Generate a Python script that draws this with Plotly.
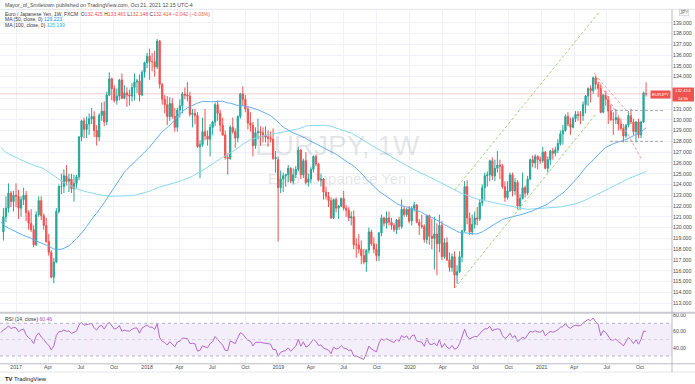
import pandas as pd
import plotly.graph_objects as go

# ---------------- data (weekly EUR/JPY, FXCM) ----------------
first_week = "2016-11-28"

# closes of the 100 weeks before the first visible bar (feed the MA / RSI indicators)
pre_closes = [
    143.6, 141.7, 136.7, 132.1, 133.5, 134.0, 135.3, 135.2, 133.8, 131.4,
    127.9, 131.1, 129.8, 130.2, 127.3, 129.2, 129.6, 133.8, 134.5, 136.1,
    133.9, 135.8, 139.8, 138.4, 139.0, 136.9, 135.9, 136.1, 134.7, 134.9,
    136.1, 135.6, 138.3, 135.6, 134.6, 133.2, 135.9, 136.2, 134.5, 134.7,
    136.7, 136.2, 133.1, 133.0, 131.6, 130.0, 131.4, 130.0, 133.5, 133.4,
    132.3, 131.4, 130.6,
    128.1, 128.3, 128.2, 131.0, 126.8, 127.0, 125.3, 124.4, 124.7, 126.7,
    125.8, 125.4, 127.6, 123.2, 124.3, 123.1, 122.4, 123.0, 123.6, 123.7,
    123.6, 120.6, 118.9, 117.7, 113.6, 114.3, 111.4, 116.5, 117.5, 114.0,
    112.9, 113.0, 113.2, 114.4, 116.0, 115.0, 114.8, 113.3, 113.8, 114.5,
    114.6, 113.9, 114.5, 114.7, 114.8, 117.5, 119.6,
]

opens = [
    119.6, 121.0, 121.8, 123.2, 122.4, 123.0, 122.9, 121.8, 122.6, 123.0,
    121.4, 120.4, 119.8, 118.4, 121.2, 122.5, 121.1, 120.2, 118.7, 117.7,
    115.4, 116.8, 121.5, 123.8, 123.8, 124.8, 124.3, 124.5, 123.6, 124.1,
    124.7, 128.4, 129.9, 129.1, 129.6, 130.1, 130.3, 129.0, 128.4, 130.4,
    130.8, 129.8, 132.3, 133.8, 132.9, 131.8, 132.2, 133.7, 132.0, 132.5,
    132.3, 132.2, 133.0, 133.5, 133.6, 132.3, 134.4, 135.3, 135.9, 135.4,
    135.4, 134.9, 137.3, 133.3, 131.9, 131.4, 130.3, 131.5, 130.3, 129.3,
    130.9, 131.3, 132.4, 132.3, 132.2, 130.5, 130.6, 130.4, 127.5, 127.7,
    128.9, 128.5, 128.2, 129.3, 129.8, 131.4, 130.6, 129.5, 128.6, 126.5,
    126.4, 129.3, 128.9, 128.3, 130.3, 132.4, 131.9, 131.0, 129.7, 129.5,
    127.6, 128.8, 128.9, 128.8, 128.6, 128.4, 128.3, 128.2, 126.4, 126.3,
    123.7, 124.5, 124.8, 124.9, 125.5, 124.3, 124.9, 125.4, 127.2, 124.9,
    126.2, 124.2, 124.5, 125.4, 126.6, 125.9, 124.4, 124.5, 123.3, 122.9,
    122.5, 120.9, 122.6, 121.8, 122.0, 122.7, 121.8, 121.6, 120.9, 121.0,
    118.4, 118.4, 118.0, 117.4, 116.8, 117.9, 119.6, 118.5, 118.0, 117.4,
    119.5, 120.9, 120.4, 120.9, 120.5, 120.2, 119.8, 120.7, 120.1, 121.7,
    121.2, 121.7, 120.6, 121.8, 122.1, 120.5, 120.2, 120.1, 118.9, 121.1,
    119.2, 119.0, 119.4, 118.5, 120.2, 117.3, 118.6, 117.0, 116.3, 117.3,
    115.6, 115.9, 117.3, 119.7, 123.8, 120.9, 119.6, 120.3, 120.9, 120.8,
    122.3, 123.7, 124.8, 124.9, 126.2, 124.8, 125.5, 125.8, 125.7, 123.8,
    122.8, 123.4, 124.9, 123.4, 124.2, 122.0, 122.7, 123.7, 123.2, 124.5,
    126.3, 126.0, 126.6, 126.3, 126.2, 127.0, 125.5, 126.3, 127.1, 126.9,
    127.2, 127.8, 128.7, 129.0, 130.3, 129.6, 129.3, 130.1, 130.5, 130.4,
    130.4, 131.4, 132.2, 132.9, 132.7, 133.9, 133.3, 132.9, 130.7, 132.3,
    131.9, 130.8, 130.0, 130.0, 130.2, 129.6, 129.2, 128.5, 129.5, 130.4,
    129.8, 128.9, 129.8, 128.6, 129.8, 132.425,
]

highs = [
    121.8, 122.9, 124.1, 123.4, 123.4, 124.1, 123.5, 122.9, 123.7, 123.4,
    121.6, 121.7, 120.2, 121.5, 122.9, 122.9, 121.3, 120.9, 119.4, 117.9,
    117.2, 121.8, 124.0, 125.0, 125.4, 125.8, 125.0, 125.0, 124.9, 124.9,
    128.5, 130.0, 130.2, 130.3, 130.6, 131.1, 130.8, 129.5, 130.6, 131.6,
    131.7, 132.6, 134.4, 133.9, 133.2, 132.9, 133.8, 134.3, 133.2, 133.0,
    132.8, 133.4, 134.3, 133.8, 134.2, 134.6, 135.4, 136.2, 136.6, 136.2,
    136.4, 137.5, 137.4, 133.4, 132.3, 132.2, 132.1, 132.0, 131.1, 131.1,
    131.9, 132.6, 133.0, 133.5, 132.6, 131.0, 131.0, 130.7, 128.1, 130.2,
    131.0, 129.0, 129.6, 129.9, 131.6, 131.8, 130.9, 130.2, 129.0, 126.9,
    129.5, 130.2, 129.2, 130.4, 132.5, 133.1, 132.3, 131.2, 130.7, 129.8,
    129.3, 130.1, 129.4, 129.3, 129.4, 129.0, 128.9, 129.2, 127.1, 126.6,
    125.3, 125.1, 125.0, 125.8, 125.6, 125.5, 125.7, 127.5, 127.3, 126.4,
    127.0, 125.0, 125.6, 126.7, 126.8, 126.0, 125.0, 124.6, 123.8, 123.3,
    122.8, 122.7, 122.8, 122.1, 122.8, 123.4, 122.1, 121.9, 121.5, 121.6,
    119.0, 119.4, 118.8, 118.0, 118.0, 120.0, 119.8, 119.1, 118.5, 119.6,
    121.2, 121.0, 121.5, 121.5, 120.9, 120.4, 120.8, 121.0, 122.6, 122.0,
    121.8, 122.0, 122.0, 122.4, 122.2, 120.8, 121.2, 120.3, 121.2, 121.2,
    120.8, 121.0, 120.4, 121.2, 120.6, 119.0, 119.1, 117.7, 117.6, 117.8,
    116.5, 117.8, 119.8, 124.3, 124.4, 121.4, 121.2, 121.5, 121.9, 122.6,
    124.0, 125.1, 125.2, 126.3, 126.5, 126.3, 127.1, 126.3, 125.9, 124.3,
    124.3, 125.1, 125.1, 124.6, 124.4, 123.1, 125.1, 123.9, 124.8, 126.4,
    126.7, 126.8, 126.7, 126.6, 127.5, 127.1, 126.6, 127.2, 127.4, 127.5,
    128.2, 129.0, 129.5, 130.5, 130.7, 130.2, 130.3, 130.8, 130.8, 130.8,
    131.7, 132.3, 133.0, 133.2, 134.0, 134.1, 133.5, 133.3, 132.4, 132.7,
    132.2, 131.4, 130.7, 131.0, 130.4, 130.1, 129.6, 129.6, 130.8, 131.0,
    130.1, 129.9, 130.1, 129.9, 132.6, 133.481,
]

lows = [
    118.8, 120.5, 121.4, 121.9, 121.5, 121.9, 120.8, 121.0, 122.1, 120.6,
    119.8, 119.6, 118.2, 118.3, 121.0, 120.7, 119.8, 118.6, 117.4, 115.3,
    114.85, 116.7, 121.3, 123.1, 123.2, 123.9, 123.3, 123.2, 122.4, 123.7,
    124.4, 128.0, 128.3, 128.3, 128.6, 129.6, 128.4, 127.6, 128.0, 129.9,
    129.4, 129.5, 132.2, 131.8, 131.6, 131.4, 131.8, 131.9, 131.9, 131.2,
    131.3, 131.7, 131.8, 132.5, 131.7, 132.2, 133.9, 134.8, 133.7, 134.5,
    134.0, 134.7, 132.9, 131.4, 130.6, 129.5, 129.9, 130.1, 128.9, 128.9,
    130.2, 130.6, 131.9, 131.7, 130.3, 129.3, 129.6, 127.4, 124.6, 127.5,
    128.1, 127.6, 126.6, 128.6, 129.4, 129.9, 128.9, 128.5, 126.3, 124.9,
    126.3, 128.7, 127.4, 127.9, 130.1, 131.3, 130.7, 129.1, 128.9, 126.6,
    127.3, 128.2, 127.6, 127.9, 127.9, 127.5, 127.9, 126.3, 125.1, 118.7,
    123.2, 123.3, 123.8, 124.2, 124.1, 124.0, 124.6, 125.2, 124.5, 124.6,
    124.0, 123.8, 124.1, 125.1, 125.7, 124.3, 123.8, 122.6, 122.6, 121.9,
    120.8, 120.8, 121.4, 120.8, 121.9, 121.6, 121.0, 120.6, 120.2, 118.0,
    117.2, 117.6, 116.6, 116.6, 115.9, 117.6, 118.3, 117.6, 116.9, 116.9,
    119.2, 120.1, 119.9, 120.2, 119.8, 119.6, 119.4, 119.8, 119.9, 121.0,
    121.0, 120.4, 120.2, 121.5, 120.4, 119.3, 119.9, 118.6, 118.5, 118.4,
    118.0, 116.1, 115.6, 117.7, 117.0, 117.1, 116.9, 115.9, 115.9, 114.4,
    114.8, 115.8, 116.8, 119.6, 120.3, 119.3, 119.3, 119.9, 120.2, 120.6,
    122.0, 122.5, 123.8, 124.3, 124.4, 124.3, 125.1, 124.5, 123.6, 122.4,
    122.6, 123.3, 122.9, 123.0, 121.7, 121.6, 122.6, 122.8, 123.0, 124.4,
    125.6, 125.5, 125.4, 125.9, 126.0, 125.4, 125.1, 125.8, 126.3, 126.6,
    126.9, 127.6, 127.7, 128.9, 129.4, 128.6, 129.2, 129.8, 129.9, 129.6,
    129.9, 130.6, 131.3, 131.6, 132.4, 132.8, 132.1, 130.6, 130.6, 131.3,
    129.6, 129.9, 128.6, 129.6, 129.0, 129.0, 127.9, 128.3, 129.3, 129.6,
    128.6, 127.9, 128.3, 128.3, 129.7, 132.148,
]

closes = [
    121.0, 121.8, 123.2, 122.4, 123.0, 122.9, 121.8, 122.6, 123.0, 121.4,
    120.4, 119.8, 118.4, 121.2, 122.5, 121.1, 120.2, 118.7, 117.7, 115.4,
    116.8, 121.5, 123.8, 123.8, 124.8, 124.3, 124.5, 123.6, 124.1, 124.7,
    128.4, 129.9, 129.1, 129.6, 130.1, 130.3, 129.0, 128.4, 130.4, 130.8,
    129.8, 132.3, 133.8, 132.9, 131.8, 132.2, 133.7, 132.0, 132.5, 132.3,
    132.2, 133.0, 133.5, 133.6, 132.3, 134.4, 135.3, 135.9, 135.4, 135.4,
    134.9, 137.3, 133.3, 131.9, 131.4, 130.3, 131.5, 130.3, 129.3, 130.9,
    131.3, 132.4, 132.3, 132.2, 130.5, 130.6, 130.4, 127.5, 127.7, 128.9,
    128.5, 128.2, 129.3, 129.8, 131.4, 130.6, 129.5, 128.6, 126.5, 126.4,
    129.3, 128.9, 128.3, 130.3, 132.4, 131.9, 131.0, 129.7, 129.5, 127.6,
    128.8, 128.9, 128.8, 128.6, 128.4, 128.3, 128.2, 126.4, 126.5, 123.7,
    124.5, 124.8, 124.9, 125.5, 124.3, 124.9, 125.4, 127.2, 124.9, 126.2,
    124.2, 124.5, 125.4, 126.6, 125.9, 124.4, 124.5, 123.3, 122.9, 122.5,
    120.9, 122.6, 121.8, 122.0, 122.7, 121.8, 121.6, 120.9, 121.0, 118.4,
    118.4, 118.0, 117.4, 116.8, 117.9, 119.6, 118.5, 118.0, 117.4, 119.5,
    120.9, 120.4, 120.9, 120.5, 120.2, 119.8, 120.7, 120.1, 121.7, 121.2,
    121.7, 120.6, 121.8, 122.1, 120.5, 120.2, 120.1, 118.9, 121.1, 119.2,
    119.0, 119.4, 118.5, 120.2, 117.3, 118.6, 117.0, 116.3, 117.3, 115.6,
    115.9, 117.3, 119.7, 123.8, 120.9, 119.6, 120.3, 120.9, 120.8, 122.3,
    123.7, 124.8, 124.9, 126.2, 124.8, 125.5, 125.8, 125.7, 123.8, 122.8,
    123.4, 124.9, 123.4, 124.2, 122.0, 122.7, 123.7, 123.2, 124.5, 126.3,
    126.0, 126.6, 126.3, 126.2, 127.0, 125.5, 126.3, 127.1, 126.9, 127.2,
    127.8, 128.7, 129.0, 130.3, 129.6, 129.3, 130.1, 130.5, 130.4, 130.4,
    131.4, 132.2, 132.9, 132.7, 133.9, 133.3, 132.9, 130.7, 132.3, 131.9,
    130.8, 130.0, 130.0, 130.2, 129.6, 129.2, 128.5, 129.5, 130.4, 129.8,
    128.9, 129.8, 128.6, 129.8, 132.5, 132.414,
]

# drawings on the chart (date, price)
channel_low_dates = ["2020-05-05", "2021-06-03"]
channel_low_prices = [114.4, 130.63]
channel_up_dates = ["2020-05-05", "2021-06-10"]
channel_up_prices = [123.5, 140.0]
fall_a_dates = ["2021-05-27", "2021-10-06"]
fall_a_prices = [134.37, 126.3]
fall_b_dates = ["2021-06-07", "2021-09-08"]
fall_b_prices = [133.85, 130.3]
range_dates = ["2021-07-10", "2021-12-04"]
range_top = 130.85
range_bottom = 128.0
last_price = 132.414

price_ticks = list(range(113, 140))
hidden_ticks = [132, 133]          # covered by the last-price label on the axis
rsi_ticks = [40, 60, 80]
date_ticks = ["2017-01-02", "2017-04-01", "2017-07-01", "2017-10-01",
              "2018-01-01", "2018-04-01", "2018-07-01", "2018-10-01",
              "2019-01-01", "2019-04-01", "2019-07-01", "2019-10-01",
              "2020-01-01", "2020-04-01", "2020-07-01", "2020-10-01",
              "2021-01-01", "2021-04-01", "2021-07-01", "2021-10-01"]
date_labels = ["2017", "Apr", "Jul", "Oct", "2018", "Apr", "Jul", "Oct",
               "2019", "Apr", "Jul", "Oct", "2020", "Apr", "Jul", "Oct",
               "2021", "Apr", "Jul", "Oct"]

# ---------------- indicators ----------------
dates = pd.date_range(first_week, periods=len(closes), freq="7D")
pre_dates = pd.date_range(end=dates[0] - pd.Timedelta(days=7), periods=len(pre_closes), freq="7D")
all_close = pd.Series(pre_closes + closes, index=pre_dates.append(dates))
ma50 = all_close.rolling(50).mean()
ma100 = all_close.rolling(100).mean()
delta = all_close.diff()
gain = delta.clip(lower=0)
loss = -delta.clip(upper=0)
avg_gain = gain.ewm(alpha=1 / 14, adjust=False).mean()
avg_loss = loss.ewm(alpha=1 / 14, adjust=False).mean()
rsi = 100 - 100 / (1 + avg_gain / avg_loss)
show_from = dates[0] - pd.Timedelta(days=7)
ma50 = ma50[ma50.index >= show_from]
ma100 = ma100[ma100.index >= show_from]
rsi = rsi[rsi.index >= show_from]

# ---------------- figure ----------------
W, H = 695, 384
def py(y):
    return 1 - y / H
def px(x):
    return x / W

UP, DN = "#26a69a", "#ef5350"
fig = go.Figure()
fig.add_trace(go.Candlestick(
    x=dates, open=opens, high=highs, low=lows, close=closes,
    increasing=dict(line=dict(color=UP, width=1), fillcolor=UP),
    decreasing=dict(line=dict(color=DN, width=1), fillcolor=DN),
    whiskerwidth=0, xaxis="x", yaxis="y", showlegend=False, hoverinfo="skip"))
fig.add_trace(go.Scatter(x=ma100.index, y=ma100.values, mode="lines",
                         line=dict(color="#8ad8ec", width=1), xaxis="x", yaxis="y", hoverinfo="skip"))
fig.add_trace(go.Scatter(x=ma50.index, y=ma50.values, mode="lines",
                         line=dict(color="#64aef0", width=1), xaxis="x", yaxis="y", hoverinfo="skip"))
for dx, dy, col in [(channel_low_dates, channel_low_prices, "#a5d17a"),
                    (channel_up_dates, channel_up_prices, "#a5d17a"),
                    (fall_a_dates, fall_a_prices, "#f4a0a0"),
                    (fall_b_dates, fall_b_prices, "#f4a0a0"),
                    (range_dates, [range_top, range_top], "#a6a6a6"),
                    (range_dates, [range_bottom, range_bottom], "#a6a6a6")]:
    fig.add_trace(go.Scatter(x=dx, y=dy, mode="lines",
                             line=dict(color=col, width=1, dash="3px,2px"),
                             xaxis="x", yaxis="y", hoverinfo="skip"))
fig.add_trace(go.Scatter(x=rsi.index, y=rsi.values, mode="lines",
                         line=dict(color="#b36ac8", width=1), xaxis="x2", yaxis="y2", hoverinfo="skip"))

x_range = ["2016-11-18 12:00", "2021-12-29"]
xdom = [0, px(672)]
grid = "#eef1f7"
small = dict(family="Liberation Sans, Arial, sans-serif", size=5.2, color="#4a4a4a")

fig.update_layout(
    width=W, height=H, margin=dict(l=0, r=0, t=0, b=0),
    paper_bgcolor="white", plot_bgcolor="white", showlegend=False,
    font=dict(family="Liberation Sans, Arial, sans-serif"),
    xaxis=dict(domain=xdom, range=x_range, type="date", anchor="y",
               tickvals=date_ticks, showticklabels=False, showgrid=True,
               gridcolor=grid, gridwidth=1, zeroline=False, showline=False,
               rangeslider=dict(visible=False), fixedrange=True),
    xaxis2=dict(domain=xdom, range=x_range, type="date", anchor="y2", matches="x",
                tickvals=date_ticks, ticktext=date_labels, showticklabels=True,
                tickfont=small, ticks="", showgrid=True, gridcolor=grid,
                zeroline=False, showline=False),
    yaxis=dict(domain=[py(312), py(9.5)], range=[112.17, 140.23], side="right", anchor="x",
               tickvals=price_ticks,
               ticktext=["" if v in hidden_ticks else "%.3f" % v for v in price_ticks],
               tickfont=small, ticks="", showgrid=True, gridcolor=grid,
               zeroline=False, showline=False),
    yaxis2=dict(domain=[py(363), py(313)], range=[21.4, 82.6], side="right", anchor="x2",
                tickvals=rsi_ticks, ticktext=["%.2f" % v for v in rsi_ticks],
                tickfont=small, ticks="", showgrid=False, zeroline=False, showline=False),
)

shapes = [
    # price line
    dict(type="line", xref="x domain", yref="y", x0=0, x1=1, y0=last_price, y1=last_price,
         line=dict(color="rgba(239,83,80,0.2)", width=1.5)),
    # RSI band and levels
    dict(type="rect", xref="x2 domain", yref="y2", x0=0, x1=1, y0=30, y1=70,
         fillcolor="rgba(156,100,210,0.11)", line=dict(width=0), layer="below"),
    dict(type="line", xref="x2 domain", yref="y2", x0=0, x1=1, y0=70, y1=70,
         line=dict(color="#b9b2c6", width=1, dash="dot")),
    dict(type="line", xref="x2 domain", yref="y2", x0=0, x1=1, y0=50, y1=50,
         line=dict(color="#d3cde0", width=1, dash="dot")),
    dict(type="line", xref="x2 domain", yref="y2", x0=0, x1=1, y0=30, y1=30,
         line=dict(color="#b9b2c6", width=1, dash="dot")),
    # frame lines
    dict(type="line", xref="paper", yref="paper", x0=0, x1=1, y0=py(9.3), y1=py(9.3),
         line=dict(color="#e3e5ea", width=1)),
    dict(type="line", xref="paper", yref="paper", x0=0, x1=1, y0=py(312.8), y1=py(312.8),
         line=dict(color="#c9cbd0", width=2)),
    dict(type="line", xref="paper", yref="paper", x0=0, x1=1, y0=py(363.8), y1=py(363.8),
         line=dict(color="#b8bbc2", width=1)),
    dict(type="line", xref="paper", yref="paper", x0=0, x1=1, y0=py(372), y1=py(372),
         line=dict(color="#e6e7ea", width=1)),
    dict(type="line", xref="paper", yref="paper", x0=px(672), x1=px(672), y0=py(372), y1=py(9.3),
         line=dict(color="#b8bbc2", width=1)),
    # last price box on the axis
    dict(type="rect", xref="paper", yref="paper", x0=px(672.5), x1=px(694), y0=py(101.5), y1=py(87.5),
         fillcolor="#ef5350", line=dict(width=0)),
]
fig.update_layout(shapes=shapes)

RED = "#ef5350"
def span(t, c):
    return "<span style='color:%s'>%s</span>" % (c, t)

ann = [
    dict(x=px(3), y=py(4.6), text="Mayor_of_Smiletown published on TradingView.com, Oct 21, 2021 12:15 UTC-4",
         font=dict(size=5.3, color="#4a4a4a")),
    dict(x=px(3), y=py(13.6),
         text="Euro / Japanese Yen, 1W, FXCM  O" + span("132.425", RED) + " H" + span("133.481", RED)
              + " L" + span("132.148", RED) + " C" + span("132.414", RED) + " " + span("\u22120.042 (\u22120.03%)", RED),
         font=dict(size=5, color="#333")),
    dict(x=px(3), y=py(19.4), text="MA (50, close, 0) " + span("129.223", "#2196f3"),
         font=dict(size=5, color="#333")),
    dict(x=px(3), y=py(25.0), text="MA (100, close, 0) " + span("125.199", "#2bb8d6"),
         font=dict(size=5, color="#333")),
    dict(x=px(337), y=py(145), text="EURJPY, 1W", xanchor="center",
         font=dict(size=28, color="rgba(120,123,134,0.2)")),
    dict(x=px(337), y=py(179), text="Euro / Japanese Yen", xanchor="center",
         font=dict(size=15, color="rgba(120,123,134,0.2)")),
    dict(x=px(3), y=py(318.5), text="RSI (14, close) " + span("60.46", "#ab47bc"),
         font=dict(size=5, color="#333")),
    dict(x=px(671), y=py(94.2), text="EURJPY", xanchor="right", bgcolor=RED,
         font=dict(size=4.3, color="white"), borderpad=1),
    dict(x=px(683), y=py(91.0), text="132.414", xanchor="center",
         font=dict(size=4.3, color="white")),
    dict(x=px(683), y=py(98.2), text="1d 5h", xanchor="center",
         font=dict(size=4.0, color="white")),
    dict(x=px(684), y=py(12.5), text="JPY", xanchor="center", bordercolor="#c4c6cc",
         borderwidth=0.6, borderpad=0.5, font=dict(size=4.5, color="#555")),
    dict(x=px(3), y=py(379), text="<b>TV</b> TradingView",
         font=dict(size=5.8, color="#131722")),
]
for a in ann:
    a.setdefault("xref", "paper")
    a.setdefault("yref", "paper")
    a.setdefault("xanchor", "left")
    a.setdefault("yanchor", "middle")
    a.setdefault("showarrow", False)
fig.update_layout(annotations=ann)

fig.write_html("out.html", include_plotlyjs=True, config={"displayModeBar": False},
               post_script="document.body.style.margin='0';document.body.style.overflow='hidden';")
